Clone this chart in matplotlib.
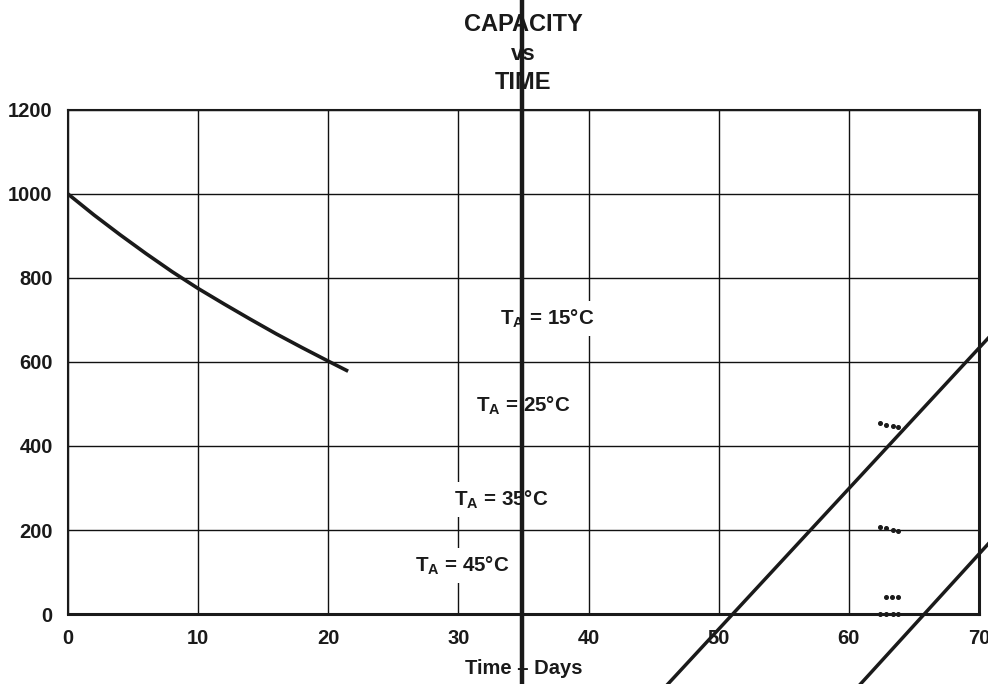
import matplotlib
matplotlib.use("Agg")
import matplotlib.pyplot as plt

# capacity vs time
days = [0, 2, 4, 6, 8, 10, 12, 14, 16, 18, 20, 21.4]
capacity = [1000, 950, 903, 858, 815, 775, 738, 702, 667, 634, 602, 580]

# short dotted fragments near day 63
dot_x = [62.4, 62.85, 63.36, 63.74]
dot_y_a = [454, 449, 448, 446]
dot_y_b = [207, 204, 201, 198]
dot_x_c = [62.85, 63.3, 63.74]
dot_y_c = [41, 41, 41]
dot_y_d = [1, 1, 1, 1]

# stray straight lines (end points)
stray1_x = [46.0, 70.8]
stray1_y = [-170, 660]
stray2_x = [60.8, 70.8]
stray2_y = [-170, 170]
bar_x = 34.9

labels = ["15", "25", "35", "45"]
label_x = [36.8, 34.96, 33.27, 30.27]
label_y = [703, 496, 272, 115]

x_ticks = [0, 10, 20, 30, 40, 50, 60, 70]
y_ticks = [0, 200, 400, 600, 800, 1000, 1200]


def main():
    plt.rcParams['font.family'] = ['Liberation Sans', 'DejaVu Sans']
    plt.rcParams['font.weight'] = 'bold'

    fig = plt.figure(figsize=(9.88, 6.84), dpi=100)
    ax = fig.add_axes([68 / 988, 1 - 614 / 684, 911 / 988, 504 / 684])

    ax.set_xlim(0, 70)
    ax.set_ylim(0, 1200)
    ax.set_xticks(x_ticks)
    ax.set_yticks(y_ticks)
    ax.tick_params(length=0, labelsize=14.5, pad=11, colors='#1a1a1a')
    ax.grid(True, color='#111111', linewidth=1.0)
    ax.set_axisbelow(True)
    for side in ['left', 'top']:
        ax.spines[side].set_linewidth(1.5)
    for side in ['right', 'bottom']:
        ax.spines[side].set_linewidth(2.2)
    for sp in ax.spines.values():
        sp.set_color('#1a1a1a')

    ax.plot(days, capacity, color='#1a1a1a', linewidth=2.6, zorder=3)

    for xs, ys in [(dot_x, dot_y_a), (dot_x, dot_y_b), (dot_x_c, dot_y_c), (dot_x, dot_y_d)]:
        ax.plot(xs, ys, 'o', color='#1a1a1a', markersize=2.6, zorder=3, clip_on=False)

    for lab, lx, ly in zip(labels, label_x, label_y):
        ax.text(lx, ly, "T$_{\\mathregular{A}}$ = " + lab + "°C", ha='center', va='center',
                fontsize=14.8, fontweight='bold', color='#1a1a1a', zorder=3,
                bbox=dict(boxstyle='square,pad=0.3', fc='white', ec='none'))

    ax.plot(stray1_x, stray1_y, color='#1a1a1a', linewidth=2.5, clip_on=False, zorder=4)
    ax.plot(stray2_x, stray2_y, color='#1a1a1a', linewidth=2.5, clip_on=False, zorder=4)
    ax.axvline(bar_x, ymin=-0.2, ymax=1.3, color='#1a1a1a', linewidth=3.2, clip_on=False, zorder=5)

    ax.set_xlabel("Time – Days", fontsize=14.5, fontweight='bold', color='#1a1a1a', labelpad=8)

    fig.text(523 / 988, 1 - 30.7 / 684, "CAPACITY", ha='center', va='baseline',
             fontsize=17, fontweight='bold', color='#1a1a1a')
    fig.text(523 / 988, 1 - 60.5 / 684, "vs", ha='center', va='baseline',
             fontsize=16, fontweight='bold', color='#1a1a1a')
    fig.text(523 / 988, 1 - 89.3 / 684, "TIME", ha='center', va='baseline',
             fontsize=17, fontweight='bold', color='#1a1a1a')

    fig.savefig("out.png", dpi=100)


if __name__ == "__main__":
    main()
